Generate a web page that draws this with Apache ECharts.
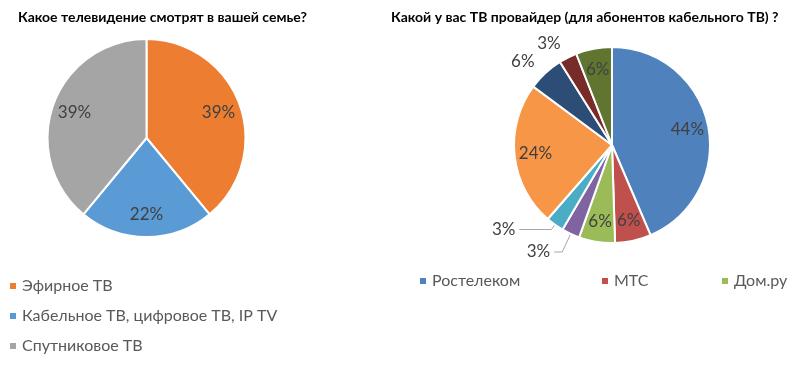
<!DOCTYPE html>
<html>
<head>
<meta charset="utf-8">
<script src="https://cdn.jsdelivr.net/npm/echarts@6/dist/echarts.min.js"></script>
<style>
html,body{margin:0;padding:0;background:#fff;}
#c{width:802px;height:367px;}
</style>
</head>
<body>
<div id="c"></div>
<script>
// ---- data ----
const leftTitle = 'Какое телевидение смотрят в вашей семье?';
const leftNames = ['Эфирное ТВ', 'Кабельное ТВ, цифровое ТВ, IP TV', 'Спутниковое ТВ'];
const leftValues = [39, 22, 39];
const leftColors = ['#ED7D31', '#5B9BD5', '#A5A5A5'];

const rightTitle = 'Какой у вас ТВ провайдер (для абонентов кабельного ТВ) ?';
const rightNames = ['Ростелеком', 'МТС', 'Дом.ру', 'Провайдер 4', 'Провайдер 5', 'Провайдер 6', 'Провайдер 7', 'Провайдер 8', 'Провайдер 9'];
const rightValues = [44, 6, 6, 3, 3, 24, 6, 3, 6];
const rightColors = ['#4F81BD', '#C0504D', '#9BBB59', '#8064A2', '#4BACC6', '#F79646', '#2C4D75', '#772C2A', '#5F7530'];
const rightLegendNames = ['Ростелеком', 'МТС', 'Дом.ру'];
// which right-pie labels sit outside the pie, and their leader-line settings
const rightOutside = [false, false, false, true, true, false, true, true, false];
const rightLeader = [false, false, false, true, true, false, false, false, false];
const rightLineLen = [0, 0, 0, 20, 6, 0, 16, 16, 0];
const rightLineLen2 = [0, 0, 0, 8, 32, 0, 0, 0, 0];

const FONT = 'Lato';
const labelColor = '#404040';
const legendColor = '#595959';

const chart = echarts.init(document.getElementById('c'), null, {renderer: 'canvas'});

const leftData = leftNames.map((n, i) => ({name: n, value: leftValues[i], itemStyle: {color: leftColors[i]}}));
const rightData = rightNames.map((n, i) => ({
  name: n, value: rightValues[i], itemStyle: {color: rightColors[i]},
  label: {show: rightOutside[i], distanceToLabelLine: rightLeader[i] ? 4 : 0},
  labelLine: {show: rightLeader[i], length: rightLineLen[i], length2: rightLineLen2[i]}
}));
const rightInsideData = rightNames.map((n, i) => ({
  name: n, value: rightValues[i], label: {show: !rightOutside[i]}
}));
const leftInsideData = leftNames.map((n, i) => ({name: n, value: leftValues[i]}));

const pctLabel = p => p.value + '%';

const option = {
  backgroundColor: '#fff',
  animation: false,
  title: [
    {text: leftTitle, left: 13, top: 5, textStyle: {fontFamily: FONT, fontSize: 14, fontWeight: 'bold', color: '#000'}},
    {text: rightTitle, left: 386, top: 5, textStyle: {fontFamily: FONT, fontSize: 14, fontWeight: 'bold', color: '#000'}}
  ],
  legend: [
    {data: leftNames, orient: 'vertical', left: 3, top: 273, itemWidth: 8, itemHeight: 8, itemGap: 14, icon: 'rect',
      textStyle: {fontFamily: FONT, fontSize: 16, color: legendColor}},
    {data: [rightLegendNames[0]], left: 413, top: 268, itemWidth: 8, itemHeight: 8, icon: 'rect',
      textStyle: {fontFamily: FONT, fontSize: 16, color: legendColor}},
    {data: [rightLegendNames[1]], left: 595, top: 268, itemWidth: 8, itemHeight: 8, icon: 'rect',
      textStyle: {fontFamily: FONT, fontSize: 16, color: legendColor}},
    {data: [rightLegendNames[2]], left: 715, top: 268, itemWidth: 8, itemHeight: 8, icon: 'rect',
      textStyle: {fontFamily: FONT, fontSize: 16, color: legendColor}}
  ],
  series: [
    {
      type: 'pie', center: [146.5, 138], radius: [0, 99], startAngle: 90, clockwise: true,
      avoidLabelOverlap: false,
      itemStyle: {borderColor: '#fff', borderWidth: 2},
      label: {show: false}, labelLine: {show: false},
      data: leftData
    },
    {
      type: 'pie', center: [146.5, 138], radius: [48, 99], startAngle: 90, clockwise: true, silent: true,
      avoidLabelOverlap: false, legendHoverLink: false,
      itemStyle: {color: 'rgba(0,0,0,0)', borderWidth: 0},
      label: {show: true, position: 'inside', formatter: pctLabel, fontFamily: FONT, fontSize: 17, color: labelColor},
      labelLine: {show: false},
      data: leftInsideData
    },
    {
      type: 'pie', center: [612, 145], radius: [0, 98], startAngle: 90, clockwise: true,
      avoidLabelOverlap: false,
      itemStyle: {borderColor: '#fff', borderWidth: 2},
      label: {position: 'outside', formatter: pctLabel, fontFamily: FONT, fontSize: 17, color: labelColor},
      labelLine: {lineStyle: {color: '#A6A6A6', width: 1}},
      labelLayout: {hideOverlap: false},
      data: rightData
    },
    {
      type: 'pie', center: [612, 145], radius: [50, 98], startAngle: 90, clockwise: true, silent: true,
      avoidLabelOverlap: false, legendHoverLink: false,
      itemStyle: {color: 'rgba(0,0,0,0)', borderWidth: 0},
      label: {position: 'inside', formatter: pctLabel, fontFamily: FONT, fontSize: 17, color: labelColor},
      labelLine: {show: false},
      data: rightInsideData
    }
  ]
};
chart.setOption(option);
</script>
</body>
</html>
